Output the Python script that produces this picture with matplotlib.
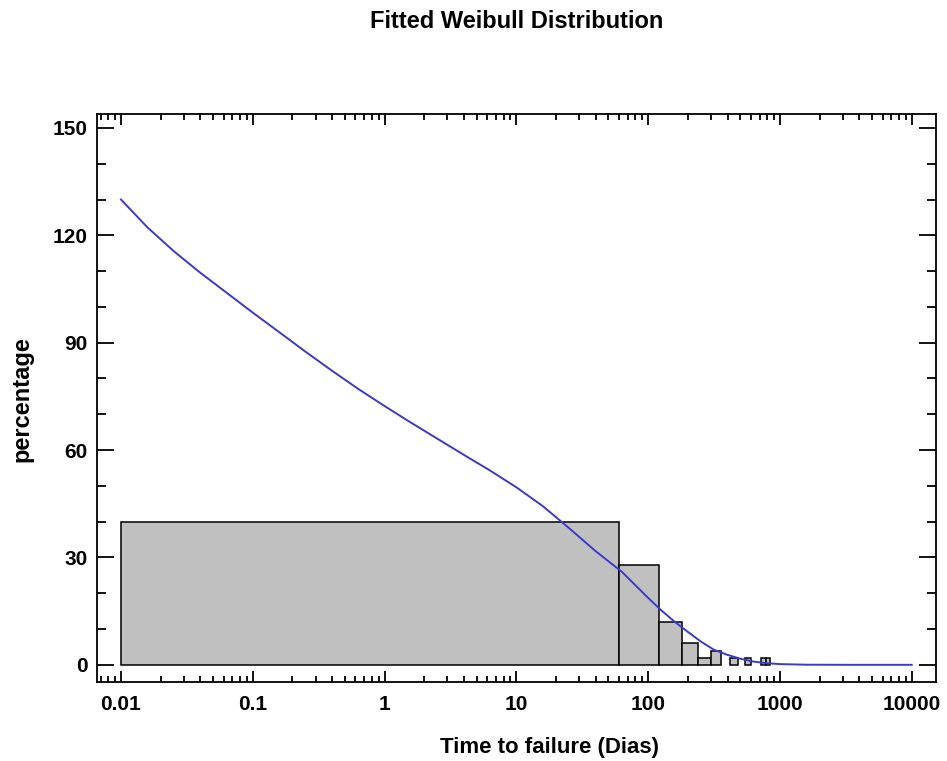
import matplotlib
matplotlib.use("Agg")
import matplotlib.pyplot as plt
from matplotlib.ticker import LogLocator, FixedLocator, NullFormatter, MultipleLocator

plt.rcParams['font.family'] = ['Liberation Sans', 'DejaVu Sans']
plt.rcParams['font.weight'] = 'bold'

# Histogram bins (days) and percentages
bin_edges = [0, 60, 120, 180, 240, 300, 360, 420, 480, 540, 600, 660, 720, 780, 840]
bin_pct = [40, 28, 12, 6, 2, 4, 0, 2, 0, 2, 0, 0, 2, 2]

# Fitted Weibull curve
curve_x = [0.01, 0.0158, 0.0251, 0.0398, 0.0631, 0.1, 0.158, 0.251, 0.398, 0.631,
           1, 1.58, 2.51, 3.98, 6.31, 10, 15.8, 25.1, 39.8, 63.1,
           100, 126, 158, 200, 251, 316, 398, 501, 631, 794, 1000, 1585, 3162, 10000]
curve_y = [130, 122.3, 115.6, 109.6, 104, 98.4, 93, 87.5, 82.2, 77.1,
           72.3, 67.7, 63.2, 58.7, 54.3, 49.6, 44.4, 38.2, 31.8, 26.0,
           18.7, 15.2, 12.1, 9.2, 6.5, 4.2, 2.8, 1.7, 0.9, 0.45, 0.2, 0.03, 0, 0]

x_ticks = [0.01, 0.1, 1, 10, 100, 1000, 10000]
x_tick_labels = ['0.01', '0.1', '1', '10', '100', '1000', '10000']
y_ticks = [0, 30, 60, 90, 120, 150]

W, H = 947, 761
fig = plt.figure(figsize=(W / 100, H / 100), dpi=100)
ax = fig.add_axes([97 / W, 1 - 682 / H, (936 - 97) / W, (682 - 114) / H])
ax.set_xscale('log')

xmin_draw = curve_x[0]
for i, h in enumerate(bin_pct):
    if h <= 0:
        continue
    left = max(bin_edges[i], xmin_draw)
    right = bin_edges[i + 1]
    ax.bar(left, h, width=right - left, align='edge', color='#c0c0c0',
           edgecolor='black', linewidth=1.1, zorder=2)

ax.plot(curve_x, curve_y, color='#3a3acc', linewidth=1.4, zorder=3)

ax.set_xlim(10 ** -2.182, 10 ** 4.184)
ax.set_ylim(-4.8, 153.9)

ax.xaxis.set_major_locator(FixedLocator(x_ticks))
ax.set_xticklabels(x_tick_labels)
ax.xaxis.set_minor_locator(LogLocator(base=10, subs=[2, 3, 4, 5, 6, 7, 8, 9]))
ax.xaxis.set_minor_formatter(NullFormatter())
ax.set_yticks(y_ticks)
ax.yaxis.set_minor_locator(MultipleLocator(10))

ax.tick_params(axis='both', which='both', direction='in', top=True, right=True, width=1.3)
ax.tick_params(axis='x', which='major', length=8, pad=9, labelsize=15)
ax.tick_params(axis='x', which='minor', length=4.3)
ax.tick_params(axis='y', which='major', length=12, pad=7, labelsize=15)
ax.tick_params(axis='y', which='minor', length=6.3)
for lab in ax.get_xticklabels() + ax.get_yticklabels():
    lab.set_fontweight('bold')

for s in ax.spines.values():
    s.set_linewidth(1.3)

ax.set_xlabel('Time to failure (Dias)', fontsize=16, fontweight='bold')
ax.xaxis.label.set_va('center')
ax.xaxis.set_label_coords((549 - 97) / 839, (682 - 748) / 568)
ax.set_ylabel('percentage', fontsize=17, fontweight='bold')
ax.yaxis.label.set_va('center')
ax.yaxis.set_label_coords((22 - 97) / 839, (682 - 399) / 568)

fig.text((97 + 936) / 2 / W, 1 - 22 / H, 'Fitted Weibull Distribution',
         ha='center', va='center', fontsize=17, fontweight='bold')

fig.savefig('out.png', dpi=100)
